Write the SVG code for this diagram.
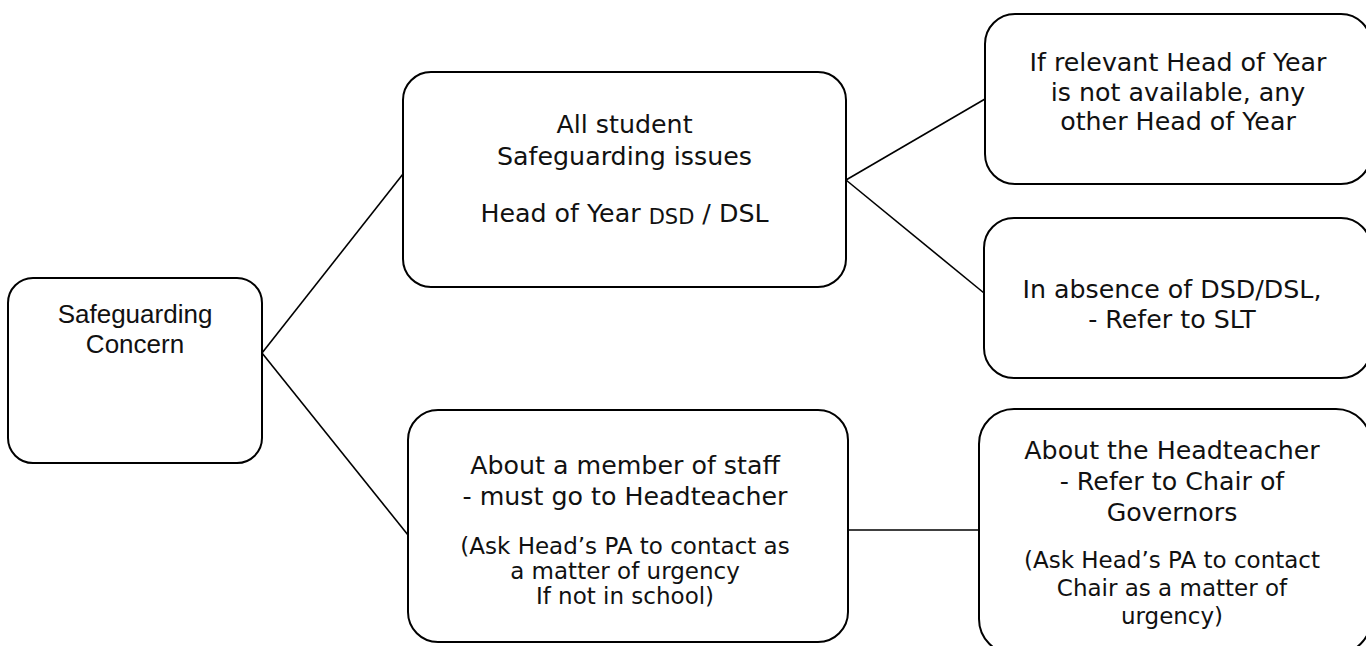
<svg xmlns="http://www.w3.org/2000/svg" width="1366" height="646" viewBox="0 0 1366 646">
<style>
.box{fill:#fff;stroke:#000;stroke-width:2}
.con{stroke:#000;stroke-width:1.6;fill:none}
.t{font-family:"DejaVu Sans","Liberation Sans",sans-serif;font-size:25.3px;fill:#111;text-anchor:middle}
.s{font-size:23px}
.a{font-family:"Liberation Sans",Arial,sans-serif;font-size:26px;fill:#111;text-anchor:middle}
</style>
<rect width="1366" height="646" fill="#fff"/>
<g id="connectors">
<line class="con" x1="262" y1="353" x2="403" y2="174"/>
<line class="con" x1="262" y1="353" x2="408" y2="535"/>
<line class="con" x1="846" y1="180" x2="985" y2="99"/>
<line class="con" x1="846" y1="180" x2="984" y2="293"/>
<line class="con" x1="848" y1="530" x2="979" y2="530"/>
</g>
<g id="n1">
<rect class="box" x="8" y="278" width="254" height="185" rx="25"/>
<text class="a" x="135" y="323">Safeguarding</text>
<text class="a" x="135" y="353">Concern</text>
</g>
<g id="n2">
<rect class="box" x="403" y="72" width="443" height="215" rx="28"/>
<text class="t" x="624.5" y="133">All student</text>
<text class="t" x="624.5" y="165">Safeguarding issues</text>
<text class="t" x="624.5" y="222">Head of Year <tspan font-size="21px" dy="2">DSD</tspan><tspan dy="-2"> / DSL</tspan></text>
</g>
<g id="n3">
<rect class="box" x="985" y="14" width="386" height="170" rx="30"/>
<text class="t" x="1178" y="71">If relevant Head of Year</text>
<text class="t" x="1178" y="101">is not available, any</text>
<text class="t" x="1178" y="130">other Head of Year</text>
</g>
<g id="n4">
<rect class="box" x="984" y="218" width="387" height="160" rx="30"/>
<text class="t" x="1172" y="298">In absence of DSD/DSL,</text>
<text class="t" x="1172" y="328">- Refer to SLT</text>
</g>
<g id="n5">
<rect class="box" x="408" y="410" width="440" height="232" rx="30"/>
<text class="t" x="625" y="474">About a member of staff</text>
<text class="t" x="625" y="505">- must go to Headteacher</text>
<text class="t s" x="625" y="554">(Ask Head’s PA to contact as</text>
<text class="t s" x="625" y="579">a matter of urgency</text>
<text class="t s" x="625" y="604">If not in school)</text>
</g>
<g id="n6">
<rect class="box" x="979" y="409" width="392" height="245" rx="35"/>
<text class="t" x="1172" y="459">About the Headteacher</text>
<text class="t" x="1172" y="490">- Refer to Chair of</text>
<text class="t" x="1172" y="521">Governors</text>
<text class="t s" x="1172" y="568">(Ask Head’s PA to contact</text>
<text class="t s" x="1172" y="596">Chair as a matter of</text>
<text class="t s" x="1172" y="624">urgency)</text>
</g>
</svg>
